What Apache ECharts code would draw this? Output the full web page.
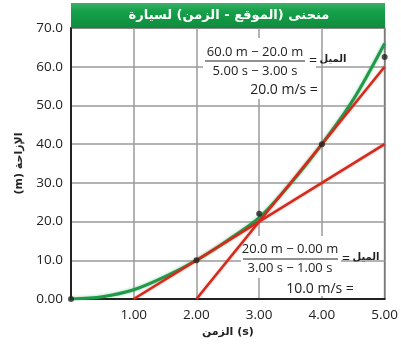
<!DOCTYPE html>
<html><head><meta charset="utf-8">
<script src="https://cdn.jsdelivr.net/npm/echarts@6/dist/echarts.min.js"></script>
<style>html,body{margin:0;padding:0;background:#fff}#c{width:401px;height:353px}</style>
</head><body><div id="c"></div>
<script>
var titleText = 'منحنى (الموقع - الزمن) لسيارة';
var xName = 'الزمن (s)';
var yName = '(m) الإزاحة';
var curveT = [0, 0.5, 1, 1.5, 2, 2.5, 3, 3.5, 4, 4.5, 5];
var curveX = [0, 0.6, 2.4, 5.8, 10, 15.2, 21, 29.8, 40, 51.5, 66];
var tangent1 = [[1, 0], [5, 40]];
var tangent2 = [[2, 0], [5, 60]];
var dots = [[0, 0], [2, 10], [3, 22], [4, 40], [5, 62.5]];
var ann1 = ['60.0 m − 20.0 m', '5.00 s − 3.00 s', '20.0 m/s =', 'الميل'];
var ann2 = ['20.0 m − 0.00 m', '3.00 s − 1.00 s', '10.0 m/s =', 'الميل'];

var chart = echarts.init(document.getElementById('c'));
var font = 'Open Sans, Noto Sans, sans-serif';
var arab = 'DejaVu Sans, Noto Sans, sans-serif';
function txt(x, y, s, opt) {
  return {type: 'text', x: x, y: y, z: 50, style: Object.assign({text: s, fill: '#222', font: '13px ' + font, textAlign: 'center', textVerticalAlign: 'middle'}, opt || {})};
}
function blank(x, y, w, h) {
  return {type: 'rect', shape: {x: x, y: y, width: w, height: h}, z: 1, style: {fill: '#fff'}};
}
chart.setOption({
  animation: false,
  grid: {left: 71, right: 16, top: 28, bottom: 54, show: true, borderColor: '#222', borderWidth: 1.5},
  xAxis: {type: 'value', min: 0, max: 5, interval: 1,
    axisLine: {show: true, onZero: false, lineStyle: {color: '#222', width: 2}},
    axisTick: {show: false},
    splitLine: {show: true, lineStyle: {color: '#9a9a9a', width: 1.5}},
    axisLabel: {color: '#222', fontSize: 13.5, fontFamily: font, margin: 9,
      formatter: function (v) { return v === 0 ? '' : v.toFixed(2); }},
    name: xName, nameLocation: 'middle', nameGap: 25,
    nameTextStyle: {color: '#222', fontSize: 11, fontWeight: 'bold', fontFamily: arab}
  },
  yAxis: {type: 'value', min: 0, max: 70, interval: 10,
    axisLine: {show: true, lineStyle: {color: '#222', width: 2}},
    axisTick: {show: false},
    splitLine: {show: true, lineStyle: {color: '#9a9a9a', width: 1.5}},
    axisLabel: {color: '#222', fontSize: 13.5, fontFamily: font, margin: 8,
      formatter: function (v) { return v === 0 ? '0.00' : v.toFixed(1); }},
    name: yName, nameLocation: 'middle', nameGap: 46, nameRotate: 90,
    nameTextStyle: {color: '#222', fontSize: 11, fontWeight: 'bold', fontFamily: arab}
  },
  series: [
    {type: 'line', smooth: 0.3, symbol: 'none', z: 2,
      data: curveT.map(function (t, i) { return [t, curveX[i]]; }),
      lineStyle: {color: '#1f9a4a', width: 3, shadowColor: 'rgba(40,160,80,0.5)', shadowBlur: 3}},
    {type: 'line', symbol: 'none', z: 3, data: tangent1,
      lineStyle: {color: '#d42a1e', width: 2.5, shadowColor: 'rgba(220,60,40,0.5)', shadowBlur: 2}},
    {type: 'line', symbol: 'none', z: 3, data: tangent2,
      lineStyle: {color: '#d42a1e', width: 2.5, shadowColor: 'rgba(220,60,40,0.5)', shadowBlur: 2}},
    {type: 'scatter', symbolSize: 6, z: 5, data: dots, itemStyle: {color: '#222'}, clip: false}
  ],
  graphic: [
    {type: 'rect', shape: {x: 71, y: 3, width: 314, height: 25}, z: 40,
      style: {fill: new echarts.graphic.LinearGradient(0, 0, 0, 1, [{offset: 0, color: '#3cb068'}, {offset: 0.35, color: '#14a048'}, {offset: 1, color: '#0f8c3e'}])}},
    {type: 'text', x: 229, y: 16, z: 41, style: {text: titleText, fill: '#fff', font: 'bold 13px ' + arab, textAlign: 'center', textVerticalAlign: 'middle'}},
    blank(203, 38, 113, 61),
    blank(241, 236, 100, 42),
    blank(284, 278, 73, 18),
    // annotation 1
    txt(255, 52, ann1[0]),
    {type: 'line', shape: {x1: 205, y1: 61, x2: 305, y2: 61}, z: 51, style: {stroke: '#222', lineWidth: 1}},
    txt(255, 71, ann1[1]),
    txt(284, 90, ann1[2], {font: '14px ' + font}),
    txt(313, 61, '=', {font: '14px ' + font}),
    txt(333, 59, ann1[3], {font: 'bold 10px ' + arab}),
    // annotation 2
    txt(290, 249, ann2[0]),
    {type: 'line', shape: {x1: 243, y1: 259, x2: 338, y2: 259}, z: 51, style: {stroke: '#222', lineWidth: 1}},
    txt(290, 268, ann2[1]),
    txt(320, 289, ann2[2], {font: '14px ' + font}),
    txt(346, 259, '=', {font: '14px ' + font}),
    txt(366, 257, ann2[3], {font: 'bold 10px ' + arab})
  ]
});
</script></body></html>
